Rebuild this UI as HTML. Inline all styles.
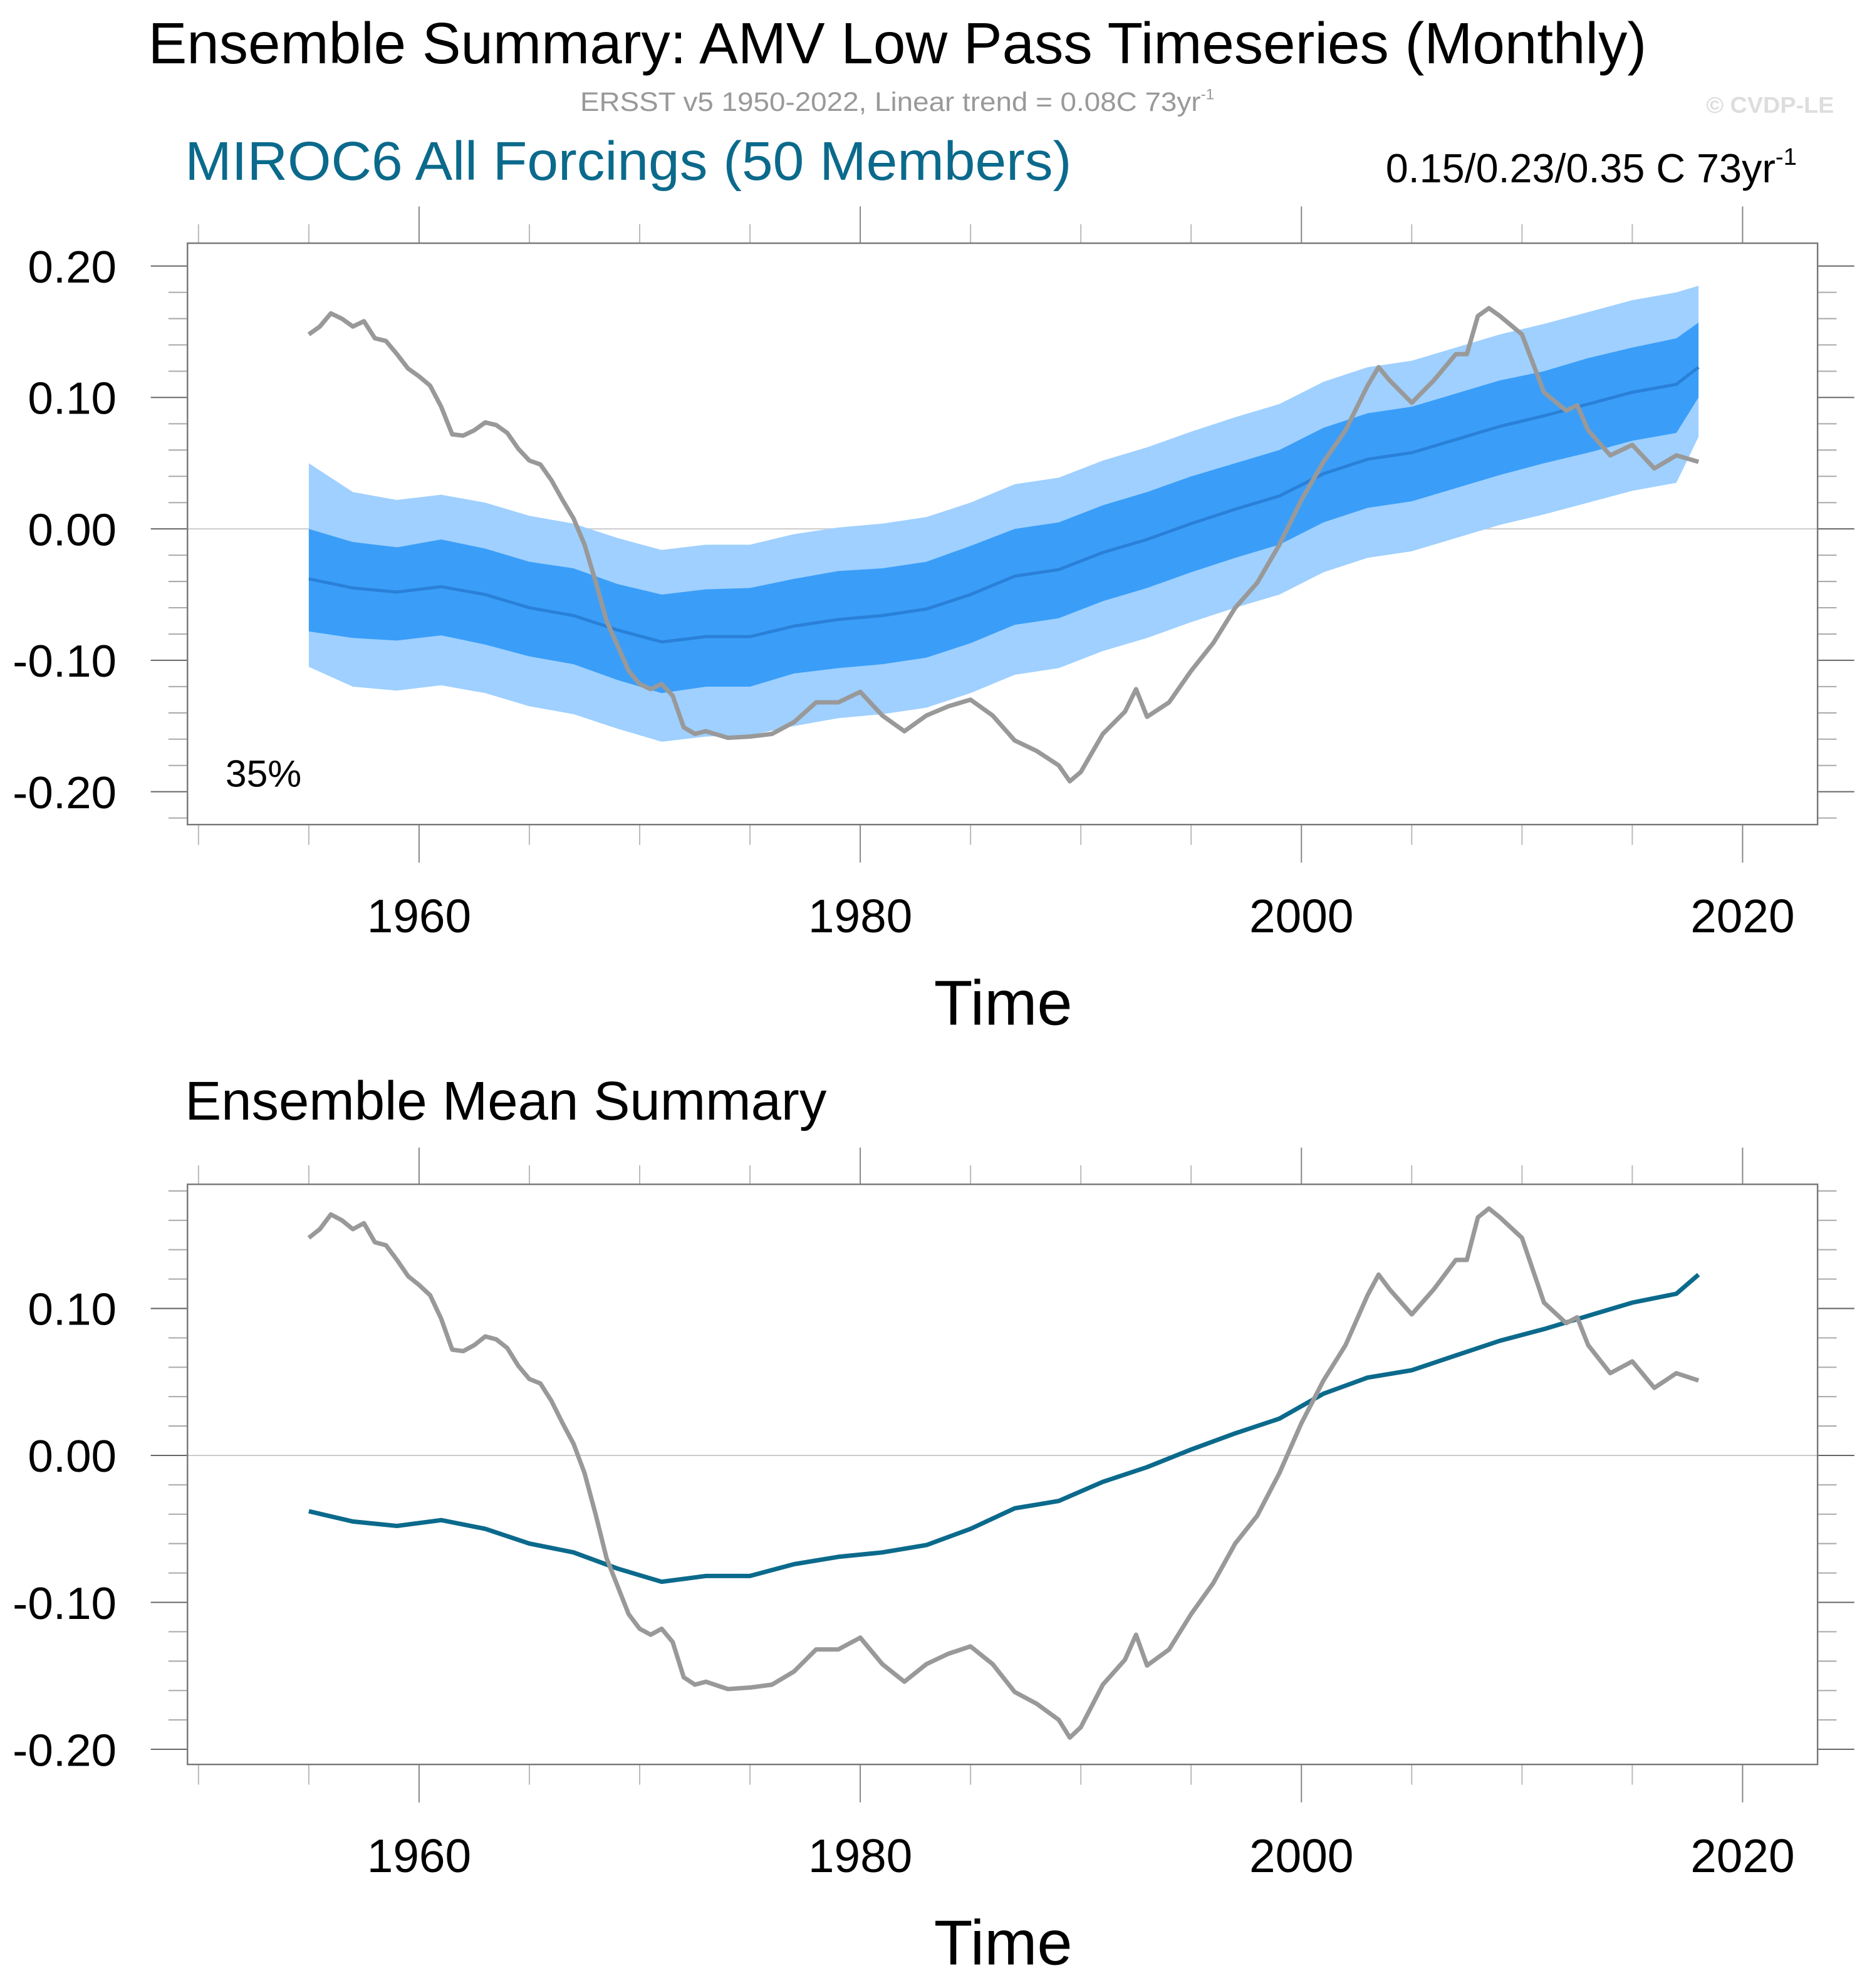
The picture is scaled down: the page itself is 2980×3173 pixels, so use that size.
<!DOCTYPE html>
<html><head><meta charset="utf-8"><style>html,body{margin:0;padding:0;background:#fff}svg{display:block}text{font-family:"Liberation Sans",sans-serif}</style></head>
<body>
<svg id="chart" width="2980" height="3173" viewBox="0 0 1474 1569.5" xmlns="http://www.w3.org/2000/svg">
<text x="117" y="50" font-size="46" textLength="1183" lengthAdjust="spacingAndGlyphs">Ensemble Summary: AMV Low Pass Timeseries (Monthly)</text>
<text x="458" y="87.5" font-size="21" fill="#999"><tspan textLength="490" lengthAdjust="spacingAndGlyphs">ERSST v5 1950-2022, Linear trend = 0.08C 73yr</tspan><tspan font-size="12" dy="-9">-1</tspan></text>
<text x="1347" y="89" font-size="18" font-weight="bold" fill="#ddd" textLength="101" lengthAdjust="spacingAndGlyphs">© CVDP-LE</text>
<text x="146" y="142" font-size="43" fill="#0b6a8c" textLength="700" lengthAdjust="spacingAndGlyphs">MIROC6 All Forcings (50 Members)</text>
<text x="1094" y="144" font-size="32">0.15/0.23/0.35 C 73yr<tspan font-size="19" dy="-14">-1</tspan></text>
<text x="178" y="621" font-size="30">35%</text>
<text x="146" y="884" font-size="43">Ensemble Mean Summary</text>
<g id="p1"></g>
<g id="p2"></g>
</svg>
<script>
const obsYears=[1955,1955.5,1956,1956.5,1957,1957.5,1958,1958.5,1959,1959.5,1960,1960.5,1961,1961.5,1962,1962.5,1963,1963.5,1964,1964.5,1965,1965.5,1966,1966.5,1967,1967.5,1968,1968.5,1969,1969.5,1970,1970.5,1971,1971.5,1972,1972.5,1973,1974,1975,1976,1977,1978,1979,1980,1981,1982,1983,1984,1985,1986,1987,1988,1989,1989.5,1990,1991,1992,1992.5,1993,1994,1995,1996,1997,1998,1999,2000,2001,2002,2003,2003.5,2004,2005,2006,2007,2007.5,2008,2008.5,2009,2010,2011,2012,2012.5,2013,2014,2015,2016,2017,2018];
const obsValues=[0.148,0.154,0.164,0.16,0.154,0.158,0.145,0.143,0.133,0.122,0.116,0.109,0.093,0.072,0.071,0.075,0.081,0.079,0.073,0.061,0.052,0.049,0.037,0.022,0.008,-0.012,-0.04,-0.07,-0.089,-0.108,-0.118,-0.122,-0.118,-0.127,-0.151,-0.156,-0.154,-0.159,-0.158,-0.156,-0.147,-0.132,-0.132,-0.124,-0.142,-0.154,-0.142,-0.135,-0.13,-0.142,-0.161,-0.169,-0.18,-0.192,-0.185,-0.156,-0.139,-0.122,-0.143,-0.132,-0.108,-0.087,-0.06,-0.041,-0.012,0.022,0.051,0.075,0.109,0.123,0.113,0.096,0.113,0.133,0.133,0.162,0.168,0.162,0.148,0.104,0.09,0.094,0.075,0.056,0.064,0.046,0.056,0.051];
const ensYears=[1955,1957,1959,1961,1963,1965,1967,1969,1971,1973,1975,1977,1979,1981,1983,1985,1987,1989,1991,1993,1995,1997,1999,2001,2003,2005,2007,2009,2011,2013,2015,2017,2018];
const ensMean=[-0.038,-0.045,-0.048,-0.044,-0.05,-0.06,-0.066,-0.077,-0.086,-0.082,-0.082,-0.074,-0.069,-0.066,-0.061,-0.05,-0.036,-0.031,-0.018,-0.008,0.004,0.015,0.025,0.042,0.053,0.058,0.068,0.078,0.086,0.095,0.104,0.11,0.123];
const darkHi=[0.0,-0.01,-0.014,-0.008,-0.015,-0.025,-0.03,-0.042,-0.05,-0.046,-0.045,-0.038,-0.032,-0.03,-0.025,-0.013,0.0,0.005,0.018,0.028,0.04,0.05,0.06,0.077,0.088,0.093,0.103,0.113,0.12,0.13,0.138,0.145,0.157];
const darkLo=[-0.078,-0.083,-0.085,-0.081,-0.088,-0.097,-0.103,-0.115,-0.125,-0.12,-0.12,-0.11,-0.106,-0.103,-0.098,-0.087,-0.073,-0.068,-0.055,-0.045,-0.033,-0.022,-0.012,0.005,0.016,0.021,0.031,0.041,0.05,0.058,0.067,0.073,0.1];
const lightHi=[0.05,0.028,0.022,0.026,0.02,0.01,0.004,-0.007,-0.016,-0.012,-0.012,-0.004,0.001,0.004,0.009,0.02,0.034,0.039,0.052,0.062,0.074,0.085,0.095,0.112,0.123,0.128,0.138,0.148,0.156,0.165,0.174,0.18,0.185];
const lightLo=[-0.105,-0.12,-0.123,-0.119,-0.125,-0.135,-0.141,-0.152,-0.162,-0.158,-0.157,-0.15,-0.144,-0.141,-0.136,-0.125,-0.111,-0.106,-0.093,-0.083,-0.071,-0.06,-0.05,-0.033,-0.022,-0.017,-0.007,0.003,0.011,0.02,0.029,0.035,0.07];
const xTickYears=[1960,1980,2000,2020];
const yTicksTop=[0.2,0.1,0,-0.1,-0.2];
const yTicksBottom=[0.1,0,-0.1,-0.2];

const NS="http://www.w3.org/2000/svg";
function mk(parent,tag,attrs){const e=document.createElementNS(NS,tag);for(const k in attrs)e.setAttribute(k,attrs[k]);parent.appendChild(e);return e;}
function panel(g,top,bottom,vTop,vBot,yTicks,showBands,meanColor,meanW){
  const L=148,R=1435,x0=1949.5,x1=2023.4;
  const sx=y=>L+(y-x0)/(x1-x0)*(R-L);
  const sy=v=>top+(vTop-v)/(vTop-vBot)*(bottom-top);
  const z=mk(g,'line',{x1:L,x2:R,y1:sy(0),y2:sy(0),stroke:'#ccc','stroke-width':1});
  
  
  for(let yr=1950;yr<=2020;yr+=5){
    const major=yr%20===0;const X=sx(yr);
    const t1=mk(g,'line',{x1:X,x2:X,y1:top,y2:top-(major?29:15),stroke:major?'#888':'#bbb','stroke-width':1});
    
    
    const t2=mk(g,'line',{x1:X,x2:X,y1:bottom,y2:bottom+(major?30:16),stroke:major?'#888':'#bbb','stroke-width':1});
    
    
  }
  xTickYears.forEach(yr=>{
    const t=mk(g,'text',{x:sx(yr),y:bottom+85,'font-size':37,'text-anchor':'middle'});t.textContent=yr;
    
    
  });
  const tl=mk(g,'text',{x:792,y:bottom+158,'font-size':50,'text-anchor':'middle'});tl.textContent='Time';
  
  
  for(let k=-12;k<=12;k++){const v=k*0.02;const Y=sy(v);if(Y<top-0.5||Y>bottom+0.5)continue;
    const major=k%5===0;
    const a=mk(g,'line',{x1:L,x2:L-(major?29:15),y1:Y,y2:Y,stroke:major?'#666':'#aaa','stroke-width':1});
    
    
    const b=mk(g,'line',{x1:R,x2:R+(major?29:15),y1:Y,y2:Y,stroke:major?'#666':'#aaa','stroke-width':1});
    
    
  }
  yTicks.forEach(v=>{const t=mk(g,'text',{x:92,y:sy(v)+13,'font-size':36,'text-anchor':'end'});t.textContent=v.toFixed(2);
    
    });
  const band=(hi,lo,fill,name)=>{let d='';ensYears.forEach((y,i)=>{d+=(i?'L':'M')+sx(y).toFixed(1)+','+sy(hi[i]).toFixed(1);});
    for(let i=ensYears.length-1;i>=0;i--)d+='L'+sx(ensYears[i]).toFixed(1)+','+sy(lo[i]).toFixed(1);
    const p=mk(g,'path',{d:d+'Z',fill:fill});
    
    };
  if(showBands){band(lightHi,lightLo,'#9fd0ff','outer-spread-band');band(darkHi,darkLo,'#3a9ef8','inner-spread-band');}
  const line=(xs,vs,col,w,name)=>{const d=xs.map((y,i)=>(i?'L':'M')+sx(y).toFixed(1)+','+sy(vs[i]).toFixed(1)).join('');
    const p=mk(g,'path',{d:d,fill:'none',stroke:col,'stroke-width':w,'stroke-linejoin':'round'});
    
    };
  line(ensYears,ensMean,meanColor,meanW,'ensemble-mean-line');
  line(obsYears,obsValues,'#999',3.5,'observed-line');
  const f=mk(g,'rect',{x:L,y:top,width:R-L,height:bottom-top,fill:'none',stroke:'#777','stroke-width':1.2});
  
  
}
panel(document.getElementById('p1'),192,651,0.2174,-0.225,yTicksTop,true,'#2a80d8',2.5);
panel(document.getElementById('p2'),935,1393,0.1845,-0.2103,yTicksBottom,false,'#0b6a8c',3.5);
</script>
</body></html>
